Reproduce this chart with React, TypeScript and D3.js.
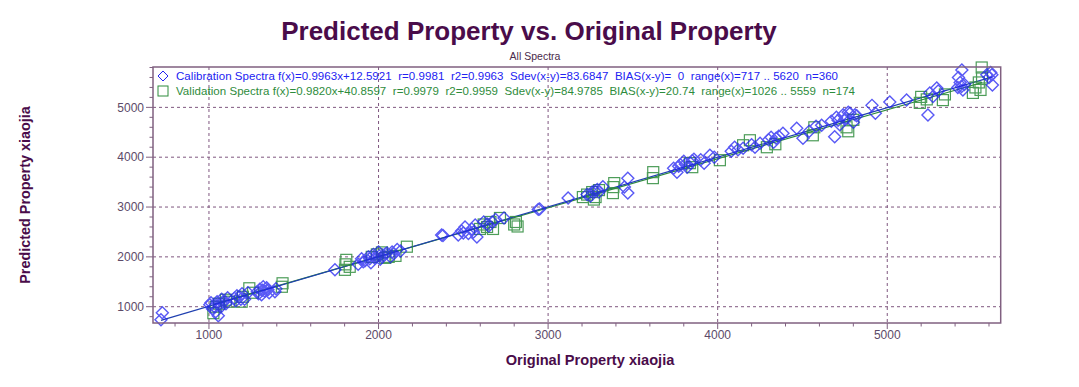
import React from "react";
import * as d3 from "d3";

// calibration samples [original, predicted]
const calibration: [number, number][] = [
  [717, 740], [725, 880],
  [1005, 1040], [1012, 1080], [1020, 960], [1030, 1010], [1040, 900], [1048, 1100], [1055, 820],
  [1060, 1050], [1068, 990], [1075, 1150], [1082, 1090], [1090, 1120], [1100, 1060], [1110, 1180],
  [1150, 1170], [1158, 1120], [1165, 1220], [1180, 1200], [1188, 1150], [1195, 1260], [1210, 1150], [1230, 1280],
  [1285, 1300], [1292, 1260], [1300, 1350], [1310, 1240], [1315, 1330], [1320, 1400], [1330, 1310],
  [1340, 1380], [1348, 1340], [1355, 1280],
  [1389, 1300], [1395, 1360],
  [1743, 1740],
  [1880, 1850], [1900, 1960], [1910, 1900], [1920, 1920], [1940, 2000], [1948, 1960], [1955, 1880],
  [1970, 2050], [1978, 1970], [1985, 1990], [2000, 2100], [2005, 2020], [2010, 1950], [2020, 2000],
  [2030, 2030], [2040, 2060], [2050, 2080], [2070, 2000], [2080, 2100], [2090, 2060], [2110, 2150], [2130, 2120],
  [2372, 2438], [2380, 2430],
  [2470, 2440], [2490, 2520], [2500, 2480], [2510, 2600], [2530, 2470], [2550, 2560], [2560, 2500],
  [2570, 2640], [2580, 2400],
  [2620, 2700], [2640, 2660], [2650, 2620], [2670, 2700], [2690, 2750], [2740, 2780],
  [2942, 2953], [2950, 2960],
  [3118, 3180],
  [3230, 3250], [3250, 3220], [3260, 3300], [3275, 3320], [3290, 3350], [3300, 3300], [3323, 3407],
  [3450, 3400], [3470, 3580], [3470, 3280],
  [3740, 3780], [3760, 3700], [3770, 3820], [3780, 3850], [3800, 3920], [3810, 3860], [3820, 3800],
  [3840, 3880], [3850, 3930], [3860, 3960],
  [3900, 3950], [3920, 3880], [3954, 4040], [3980, 4000],
  [4080, 4120], [4100, 4200], [4120, 4150], [4150, 4180], [4200, 4250], [4220, 4200], [4250, 4280],
  [4300, 4350], [4315, 4400], [4330, 4300], [4345, 4380], [4360, 4420], [4385, 4480],
  [4466, 4580], [4503, 4380], [4540, 4520], [4580, 4620], [4613, 4640],
  [4670, 4720], [4690, 4410], [4700, 4800], [4710, 4740], [4720, 4650], [4740, 4850], [4750, 4760],
  [4760, 4780], [4770, 4900], [4780, 4880], [4800, 4700], [4810, 4850], [4820, 4830],
  [4910, 5040], [4930, 4880],
  [5015, 5110], [5114, 5146], [5240, 4846], [5251, 5286], [5270, 5220], [5292, 5387], [5300, 5330],
  [5416, 5400], [5420, 5600], [5430, 5500], [5438, 5420], [5440, 5750], [5446, 5350], [5455, 5460],
  [5587, 5654], [5600, 5600], [5610, 5700], [5617, 5654], [5620, 5450],
];

// validation samples [original, predicted]
const validation: [number, number][] = [
  [1026, 870], [1040, 1000], [1060, 1060], [1100, 1140], [1120, 1100], [1193, 1100], [1200, 1200],
  [1238, 1370], [1260, 1280], [1430, 1400], [1434, 1470],
  [1802, 1740], [1805, 1850], [1810, 1940], [1830, 1800],
  [1960, 2000], [1990, 2050], [2020, 2090], [2040, 1980], [2060, 2000], [2100, 2020], [2167, 2204],
  [2598, 2560], [2620, 2650], [2640, 2600], [2660, 2700], [2675, 2560], [2716, 2780],
  [2800, 2650], [2810, 2700], [2820, 2610],
  [3205, 3200], [3230, 3250], [3260, 3300], [3270, 3150], [3280, 3200], [3300, 3340],
  [3382, 3280], [3385, 3400], [3390, 3480],
  [3618, 3580], [3620, 3700], [3836, 3880], [3850, 3800], [4013, 3940],
  [4150, 4240], [4190, 4340], [4290, 4200], [4340, 4260],
  [4561, 4440], [4570, 4600], [4760, 4600], [4770, 4520], [4800, 4750],
  [5192, 5090], [5200, 5210], [5233, 5160], [5328, 5146], [5340, 5260],
  [5505, 5290], [5520, 5400], [5540, 5500], [5550, 5350], [5557, 5800], [5559, 5600],
];

// fit lines: slope, intercept, x range
const calFit = { a: 0.9963, b: 12.5921, from: 717, to: 5620 };
const valFit = { a: 0.982, b: 40.8597, from: 1026, to: 5559 };

const majorTicks = [1000, 2000, 3000, 4000, 5000];
const xMinor = [800, 1200, 1400, 1600, 1800, 2200, 2400, 2600, 2800, 3200, 3400, 3600, 3800, 4200, 4400, 4600, 4800, 5200, 5400, 5600];
const yMinor = [800, 1200, 1400, 1600, 1800, 2200, 2400, 2600, 2800, 3200, 3400, 3600, 3800, 4200, 4400, 4600, 4800, 5200, 5400, 5600, 5800];

const legendLines = [
  "Calibration Spectra f(x)=0.9963x+12.5921  r=0.9981  r2=0.9963  Sdev(x-y)=83.6847  BIAS(x-y)=  0  range(x)=717 .. 5620  n=360",
  "Validation Spectra f(x)=0.9820x+40.8597  r=0.9979  r2=0.9959  Sdev(x-y)=84.9785  BIAS(x-y)=20.74  range(x)=1026 .. 5559  n=174",
];

const W = 1079;
const H = 387;
const left = 153, right = 1000.7, top = 67, bottom = 323;

const BLUE = "#2222f2";
const GREEN = "#2e8c3c";
const FRAME = "#806080";
const GRID = "#6a3a6a";
const TICKTXT = "#5c4a68";
const TITLE = "#4a0c4a";

export default function App() {
  const x = d3.scaleLinear().domain([670, 5669]).range([left, right]);
  const y = d3.scaleLinear().domain([673, 5810]).range([bottom, top]);

  const fitPath = (f: typeof calFit) =>
    d3.line<number>().x(v => x(v)).y(v => y(f.a * v + f.b))([f.from, f.to]) || "";

  const diamond = (cx: number, cy: number, r: number) =>
    `M${cx},${cy - r}L${cx + r},${cy}L${cx},${cy + r}L${cx - r},${cy}Z`;

  const font = "Arial, 'Liberation Sans', sans-serif";

  return (
    <svg width={W} height={H} style={{ position: "absolute", left: 0, top: 0, background: "#fff" }} fontFamily={font}>
      <text x={529} y={40} textAnchor="middle" fontSize={26} fontWeight="bold" fill={TITLE}>
        Predicted Property vs. Original Property
      </text>
      <text x={535} y={60} textAnchor="middle" fontSize={10.5} fill="#4a2a4a">
        All Spectra
      </text>

      {/* grid */}
      <g stroke={GRID} strokeWidth={1} strokeDasharray="3,3" opacity={0.85}>
        {majorTicks.map(t => (
          <line key={"gx" + t} x1={x(t)} x2={x(t)} y1={top} y2={bottom} />
        ))}
        {majorTicks.map(t => (
          <line key={"gy" + t} x1={left} x2={right} y1={y(t)} y2={y(t)} />
        ))}
      </g>

      {/* fit lines */}
      <path d={fitPath(valFit)} stroke={GREEN} strokeWidth={1.2} fill="none" />
      <path d={fitPath(calFit)} stroke="#2040b0" strokeWidth={1.2} fill="none" />

      {/* validation squares */}
      <g stroke={GREEN} strokeWidth={1.2} fill="none" opacity={0.85}>
        {validation.map(([ox, py], i) => (
          <rect key={i} x={x(ox) - 5.5} y={y(py) - 5.5} width={11} height={11} />
        ))}
      </g>

      {/* calibration diamonds */}
      <g stroke={BLUE} strokeWidth={1.4} fill="none" opacity={0.75}>
        {calibration.map(([ox, py], i) => (
          <path key={i} d={diamond(x(ox), y(py), 6)} />
        ))}
      </g>

      {/* frame */}
      <rect x={left} y={top} width={right - left} height={bottom - top} fill="none" stroke={FRAME} strokeWidth={1.5} />

      {/* axis ticks */}
      <g stroke={FRAME} strokeWidth={1}>
        {majorTicks.map(t => (
          <line key={"xt" + t} x1={x(t)} x2={x(t)} y1={bottom} y2={bottom + 6} />
        ))}
        {xMinor.map(t => (
          <line key={"xm" + t} x1={x(t)} x2={x(t)} y1={bottom} y2={bottom + 3.5} />
        ))}
        {majorTicks.map(t => (
          <line key={"yt" + t} x1={left - 7} x2={left} y1={y(t)} y2={y(t)} />
        ))}
        {yMinor.map(t => (
          <line key={"ym" + t} x1={left - 3.5} x2={left} y1={y(t)} y2={y(t)} />
        ))}
      </g>
      <g fontSize={12} fill={TICKTXT}>
        {majorTicks.map(t => (
          <text key={"xl" + t} x={x(t)} y={bottom + 15.5} textAnchor="middle">{t}</text>
        ))}
        {majorTicks.map(t => (
          <text key={"yl" + t} x={left - 9} y={y(t) + 4.2} textAnchor="end">{t}</text>
        ))}
      </g>

      {/* axis titles */}
      <text x={590} y={365} textAnchor="middle" fontSize={14.6} fontWeight="bold" fill={TITLE}>
        Original Property xiaojia
      </text>
      <text transform={`translate(30,195) rotate(-90)`} textAnchor="middle" fontSize={14.4} fontWeight="bold" fill={TITLE}>
        Predicted Property xiaojia
      </text>

      {/* legend */}
      <g fontSize={11.5}>
        <path d={diamond(163, 76, 5)} fill="#fff" stroke={BLUE} strokeWidth={1} />
        <text x={176} y={80} fill={BLUE} xmlSpace="preserve" textLength={662} lengthAdjust="spacing">
          {legendLines[0]}
        </text>
        <rect x={158} y={86} width={10} height={10} fill="#fff" stroke={GREEN} strokeWidth={1} />
        <text x={176} y={94.5} fill={GREEN} xmlSpace="preserve" textLength={679} lengthAdjust="spacing">
          {legendLines[1]}
        </text>
      </g>
    </svg>
  );
}
